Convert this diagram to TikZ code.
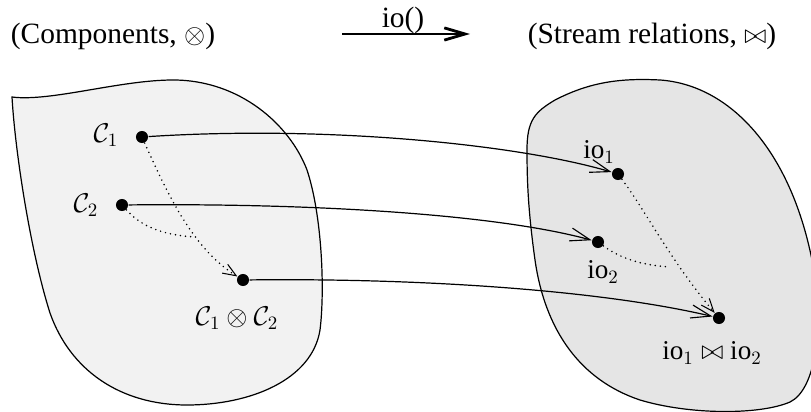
\documentclass[tikz,border=0pt]{standalone}
\usepackage{amsmath,amssymb}
\usepackage{fontspec}
\setmainfont{Liberation Serif}
\usetikzlibrary{arrows.meta}
\definecolor{setA}{HTML}{F2F2F2}
\definecolor{setB}{HTML}{E5E5E5}

\begin{document}
\begin{tikzpicture}[x=0.53pt,y=-0.53pt,line width=0.64pt,
  font=\fontsize{14.4}{17}\selectfont,
  head/.style={font=\fontsize{15.6}{18}\selectfont},
  pt/.style={circle,fill=black,inner sep=0pt,minimum size=6.4pt},
  map/.style={-{Straight Barb[length=10.5pt,width=7pt,line width=0.6pt]}},
  comb/.style={line width=0.9pt,dash pattern=on 0pt off 2.7pt,line cap=round,
    -{Straight Barb[length=7pt,width=5.5pt,line width=0.55pt,line cap=butt]}},
  merge/.style={line width=0.9pt,dash pattern=on 0pt off 2.7pt,line cap=round}]
\useasboundingbox (0,0) rectangle (811,412);

% the two sets
\draw[fill=setA] (12,97) .. controls (50,102) and (120,80) .. (173,80)
  .. controls (240,80) and (290,125) .. (307,170)
  .. controls (322,215) and (325,290) .. (320,330)
  .. controls (312,380) and (250,405) .. (187,405)
  .. controls (120,405) and (70,370) .. (50,313)
  .. controls (30,250) and (15,150) .. (12,97) -- cycle;
\draw[fill=setB] (527,150) .. controls (527,120) and (535,112) .. (555,100)
  .. controls (590,82) and (620,78) .. (660,80)
  .. controls (730,85) and (790,150) .. (812,260)
  .. controls (825,330) and (815,390) .. (790,402)
  .. controls (760,415) and (690,415) .. (640,400)
  .. controls (580,380) and (545,330) .. (535,260)
  .. controls (528,210) and (527,180) .. (527,150) -- cycle;

% headings
\node[head] (compT) at (113,36) {(Components, $\otimes$)};
\node[head] (relT) at (652,36) {(Stream relations, $\bowtie$)};
\node[head] (ioT) at (403,20) {io()};
\coordinate (ioA) at (342,34);
\coordinate (ioB) at (470,34);
\draw[line width=1.5pt,-{Straight Barb[length=11pt,width=6.5pt,line width=1.5pt]}] (ioA) -- (ioB);

% components
\node[pt] (c1) at (142,137) {};
\node[pt] (c2) at (122,205) {};
\node[pt] (cc) at (243,280) {};
\node (lc1) at (106,135) {$\mathcal{C}_1$};
\node (lc2) at (86,205) {$\mathcal{C}_2$};
\node (lcc) at (237,318) {$\mathcal{C}_1 \otimes \mathcal{C}_2$};

% stream relations
\node[pt] (r1) at (618,174) {};
\node[pt] (r2) at (598,242) {};
\node[pt] (rr) at (719,318) {};
\node (lr1) at (599,152) {io$_1$};
\node (lr2) at (603,272) {io$_2$};
\node (lrr) at (712,353) {io$_1 \bowtie$ io$_2$};

% composition
\coordinate (cm) at (195,237);
\draw[comb] (c1) .. controls (170,200) and (195,250) .. (cc);
\draw[merge] (c2) .. controls (140,225) and (160,235) .. (cm);
\coordinate (rm) at (670,267);
\draw[comb] (r1) .. controls (645,210) and (670,260) .. (rr);
\draw[merge] (r2) .. controls (620,258) and (640,265) .. (rm);

% io() on each element
\draw[map] (c1) .. controls (330,125) and (520,145) .. (r1);
\draw[map] (c2) .. controls (320,203) and (500,215) .. (r2);
\draw[map] (cc) .. controls (420,278) and (600,290) .. (rr);
\end{tikzpicture}
\end{document}
